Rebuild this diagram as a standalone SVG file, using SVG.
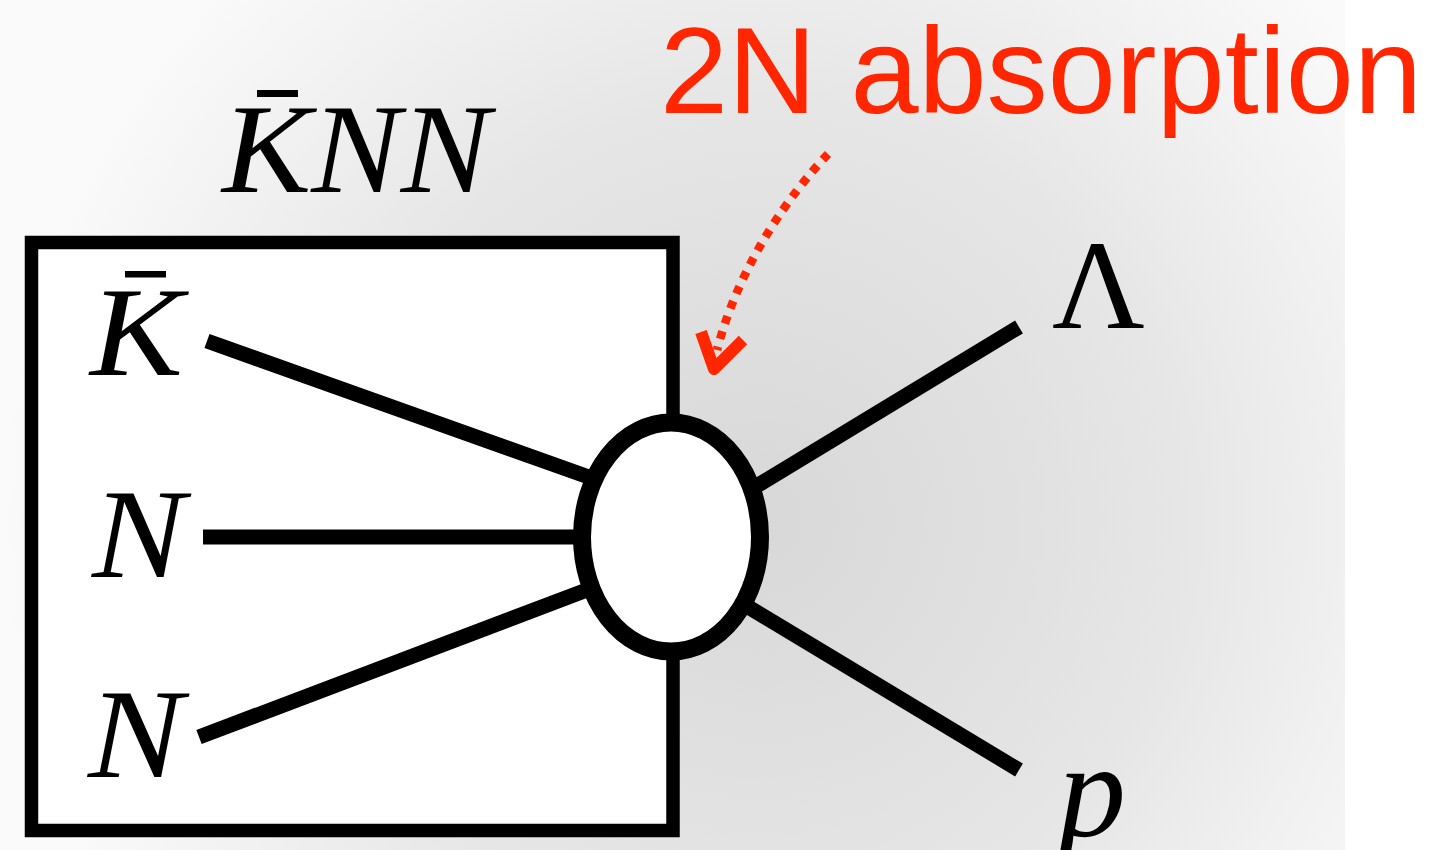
<svg xmlns="http://www.w3.org/2000/svg" width="1446" height="850" viewBox="0 0 1446 850">
<defs>
<radialGradient id="bg" gradientUnits="userSpaceOnUse" cx="760" cy="520" r="760">
<stop offset="0" stop-color="#d8d8d8"/>
<stop offset="0.55" stop-color="#e6e6e6"/>
<stop offset="1" stop-color="#fafafa"/>
</radialGradient>
<style>
.math{font-family:"Liberation Serif","Times New Roman",serif;font-style:italic;fill:#000}
.up{font-family:"Liberation Serif","Times New Roman",serif;fill:#000}
.red{font-family:"Liberation Sans",Arial,sans-serif;fill:#ff2600}
.ln{stroke:#000;stroke-width:15;fill:none}
.bar{fill:#000}
</style>
</defs>
<rect x="0" y="0" width="1446" height="850" fill="#ffffff"/>
<rect x="0" y="0" width="1345" height="850" fill="url(#bg)"/>

<g id="box">
<rect x="31.5" y="242.5" width="641.5" height="588" fill="#ffffff" stroke="#000" stroke-width="13.5"/>
</g>

<g id="title">
<text class="math" x="222" y="192" font-size="128" textLength="268" lengthAdjust="spacingAndGlyphs">KNN</text>
<rect class="bar" x="257" y="90" width="41" height="7"/>
</g>

<g id="label-kbar">
<text class="math" x="90" y="375" font-size="126" textLength="93" lengthAdjust="spacingAndGlyphs">K</text>
<rect class="bar" x="125" y="271" width="41" height="6.5"/>
</g>
<g id="label-n1"><text class="math" x="92" y="577" font-size="126" textLength="93" lengthAdjust="spacingAndGlyphs">N</text></g>
<g id="label-n2"><text class="math" x="88" y="777" font-size="126" textLength="95" lengthAdjust="spacingAndGlyphs">N</text></g>
<g id="label-lambda"><text class="up" x="1052" y="328" font-size="128">Λ</text></g>
<g id="label-p"><text class="math" x="1058" y="836" font-size="136">p</text></g>

<g id="connectors">
<line class="ln" x1="207" y1="341" x2="600" y2="481"/>
<line class="ln" x1="203" y1="537" x2="590" y2="537"/>
<line class="ln" x1="199" y1="737" x2="600" y2="585"/>
<line class="ln" x1="1019" y1="327" x2="745" y2="493"/>
<line class="ln" x1="1019" y1="770" x2="740" y2="602"/>
<path d="M828,154 C792,192 740,262 717,350" fill="none" stroke="#ff2600" stroke-width="8.5" stroke-dasharray="8 8"/>
<polyline points="701,332 714,369 743,340" fill="none" stroke="#ff2600" stroke-width="12" stroke-linejoin="round"/>
</g>

<g id="vertex">
<ellipse cx="671" cy="537" rx="89" ry="114.5" fill="#ffffff" stroke="#000" stroke-width="18"/>
</g>

<g id="annotation">
<text class="red" x="660" y="113" font-size="122" textLength="762" lengthAdjust="spacingAndGlyphs">2N absorption</text>
</g>
</svg>
